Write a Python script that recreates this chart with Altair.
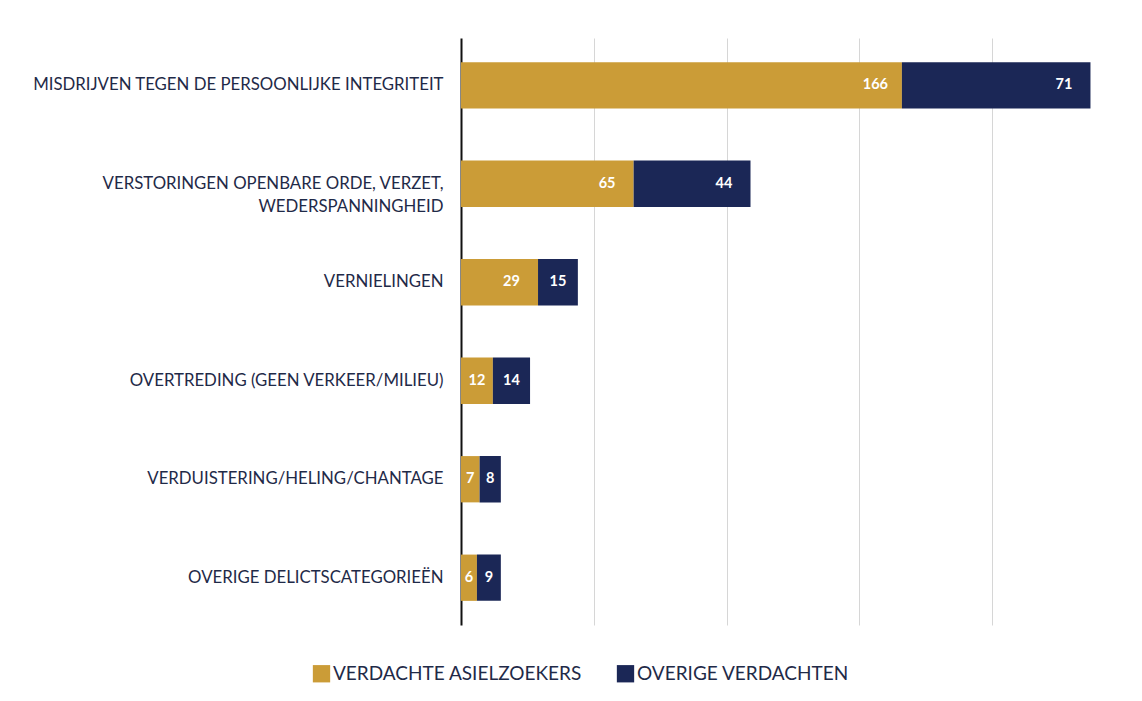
import altair as alt
import pandas as pd

categories = [
    "MISDRIJVEN TEGEN DE PERSOONLIJKE INTEGRITEIT",
    "VERSTORINGEN OPENBARE ORDE, VERZET, WEDERSPANNINGHEID",
    "VERNIELINGEN",
    "OVERTREDING (GEEN VERKEER/MILIEU)",
    "VERDUISTERING/HELING/CHANTAGE",
    "OVERIGE DELICTSCATEGORIEËN",
]
series = ["VERDACHTE ASIELZOEKERS", "OVERIGE VERDACHTEN"]
asielzoekers = [166, 65, 29, 12, 7, 6]
overige = [71, 44, 15, 14, 8, 9]
colors = ["#CB9C37", "#1B2756"]

rows = []
for c, a, o in zip(categories, asielzoekers, overige):
    rows.append({"cat": c, "series": series[0], "value": a, "ord": 0})
    rows.append({"cat": c, "series": series[1], "value": o, "ord": 1})
df = pd.DataFrame(rows)

FONT = "Lato"

y_enc = alt.Y(
    "cat:N",
    sort=categories,
    title=None,
    scale=alt.Scale(paddingInner=0.53, paddingOuter=0.245),
    axis=alt.Axis(
        labelFont=FONT,
        labelFontSize=16.8,
        labelColor="#1F2A48",
        labelPadding=18,
        labelLimit=600,
        labelLineHeight=23,
        ticks=False,
        domain=True,
        domainColor="#111111",
        domainWidth=2,
        minExtent=453,
        maxExtent=453,
        labelExpr="datum.label == 'VERSTORINGEN OPENBARE ORDE, VERZET, WEDERSPANNINGHEID' ? ['VERSTORINGEN OPENBARE ORDE, VERZET,', 'WEDERSPANNINGHEID'] : datum.label",
    ),
)

base = alt.Chart(df).transform_stack(
    stack="value",
    groupby=["cat"],
    as_=["x0", "x1"],
    sort=[alt.SortField("ord", order="ascending")],
)

bars = base.mark_bar().encode(
    y=y_enc,
    x=alt.X(
        "x0:Q",
        title=None,
        scale=alt.Scale(domain=[0, 250], nice=False),
        axis=alt.Axis(
            values=[50, 100, 150, 200, 250],
            labels=False,
            ticks=False,
            domain=False,
            grid=True,
            gridColor="#D6D6D6",
            gridWidth=1,
        ),
    ),
    x2="x1:Q",
    color=alt.Color(
        "series:N",
        sort=series,
        scale=alt.Scale(domain=series, range=colors),
        legend=alt.Legend(
            title=None,
            orient="none",
            legendX=-149,
            legendY=626,
            direction="horizontal",
            symbolType="square",
            symbolSize=300,
            symbolStrokeWidth=0,
            symbolOpacity=1,
            labelFont=FONT,
            labelFontSize=19,
            labelColor="#1F2A48",
            labelOffset=2,
            columnPadding=34,
            labelLimit=400,
        ),
    ),
)

labels = base.transform_calculate(
    lx="datum.x1 - min(10, datum.value / 2)"
).mark_text(
    font=FONT,
    fontSize=14.5,
    fontWeight="bold",
    color="white",
    align="center",
    baseline="middle",
).encode(
    y=alt.Y("cat:N", sort=categories),
    x=alt.X("lx:Q"),
    text=alt.Text("value:Q"),
)

chart = (
    alt.layer(bars, labels)
    .properties(
        width=664,
        height=587,
        padding={"left": 0, "top": 30, "right": 0, "bottom": 0},
        background="white",
    )
    .configure_view(stroke=None)
)

chart.save("out.html", embed_options={"renderer": "svg", "actions": False})
